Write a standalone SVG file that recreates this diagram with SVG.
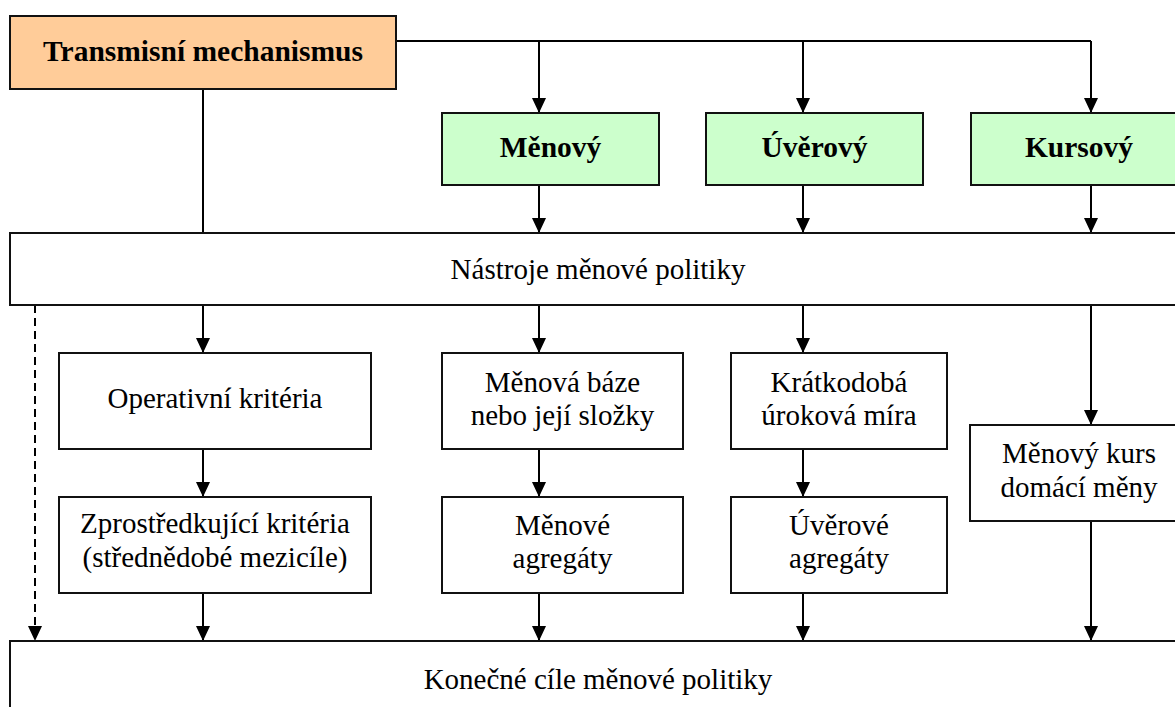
<svg xmlns="http://www.w3.org/2000/svg" width="1175" height="707" viewBox="0 0 1175 707">
<defs>
<marker id="arr" markerUnits="userSpaceOnUse" markerWidth="16" markerHeight="14" refX="15" refY="7" orient="auto">
<path d="M0,0 L15,7 L0,14 z" fill="#000"/>
</marker>
<style>
.box{fill:#fff;stroke:#111;stroke-width:2}
.orange{fill:#FFCC99}
.green{fill:#CCFFCC}
.t{font-family:"Liberation Serif","Times New Roman",serif;font-size:29px;fill:#000;text-anchor:middle}
.b{font-weight:bold;font-size:29.5px}
.c{fill:none;stroke:#000;stroke-width:2}
.a{marker-end:url(#arr)}
.d{stroke-dasharray:8,5}
</style>
</defs>
<rect width="1175" height="707" fill="#fff"/>
<g id="connectors">
<path class="c" d="M396,41 H1091"/>
<path class="c a" d="M539,41 V113"/>
<path class="c a" d="M803,41 V113"/>
<path class="c a" d="M1091,41 V113"/>
<path class="c" d="M203,89 V233"/>
<path class="c a" d="M539,185 V233"/>
<path class="c a" d="M803,185 V233"/>
<path class="c a" d="M1091,185 V233"/>
<path class="c a" d="M203,305 V353"/>
<path class="c a" d="M539,305 V353"/>
<path class="c a" d="M803,305 V353"/>
<path class="c a" d="M1091,305 V425"/>
<path class="c a" d="M203,449 V497"/>
<path class="c a" d="M539,449 V497"/>
<path class="c a" d="M803,449 V497"/>
<path class="c a" d="M203,593 V641"/>
<path class="c a" d="M539,593 V641"/>
<path class="c a" d="M803,593 V641"/>
<path class="c a" d="M1091,521 V641"/>
<path class="c a d" d="M35,305 V641"/>
</g>
<g id="transmisni">
<rect class="box orange" x="10" y="16" width="386" height="73"/>
<text class="t b" x="203" y="61">Transmisní mechanismus</text>
</g>
<g id="menovy">
<rect class="box green" x="442" y="113" width="217" height="72"/>
<text class="t b" x="550.5" y="157">Měnový</text>
</g>
<g id="uverovy">
<rect class="box green" x="706" y="113" width="217" height="72"/>
<text class="t b" x="814.5" y="157">Úvěrový</text>
</g>
<g id="kursovy">
<rect class="box green" x="971" y="113" width="217" height="72"/>
<text class="t b" x="1079" y="157">Kursový</text>
</g>
<g id="nastroje">
<rect class="box" x="10" y="233" width="1178" height="72"/>
<text class="t" x="598" y="279">Nástroje měnové politiky</text>
</g>
<g id="operativni">
<rect class="box" x="59" y="353" width="312" height="96"/>
<text class="t" x="215" y="408">Operativní kritéria</text>
</g>
<g id="menova-baze">
<rect class="box" x="442" y="353" width="241" height="96"/>
<text class="t" x="562.5" y="392">Měnová báze</text>
<text class="t" x="562.5" y="425">nebo její složky</text>
</g>
<g id="kratkodoba">
<rect class="box" x="731" y="353" width="216" height="96"/>
<text class="t" x="839" y="392">Krátkodobá</text>
<text class="t" x="839" y="425">úroková míra</text>
</g>
<g id="menovy-kurs">
<rect class="box" x="970" y="425" width="218" height="96"/>
<text class="t" x="1079" y="463">Měnový kurs</text>
<text class="t" x="1079" y="497">domácí měny</text>
</g>
<g id="zprostredkujici">
<rect class="box" x="59" y="497" width="312" height="96"/>
<text class="t" x="215" y="533">Zprostředkující kritéria</text>
<text class="t" x="215" y="567">(střednědobé mezicíle)</text>
</g>
<g id="menove-agregaty">
<rect class="box" x="442" y="497" width="241" height="96"/>
<text class="t" x="562.5" y="535">Měnové</text>
<text class="t" x="562.5" y="568">agregáty</text>
</g>
<g id="uverove-agregaty">
<rect class="box" x="731" y="497" width="216" height="96"/>
<text class="t" x="839" y="535">Úvěrové</text>
<text class="t" x="839" y="568">agregáty</text>
</g>
<g id="konecne">
<rect class="box" x="10" y="641" width="1178" height="80"/>
<text class="t" x="598" y="689">Konečné cíle měnové politiky</text>
</g>
</svg>
